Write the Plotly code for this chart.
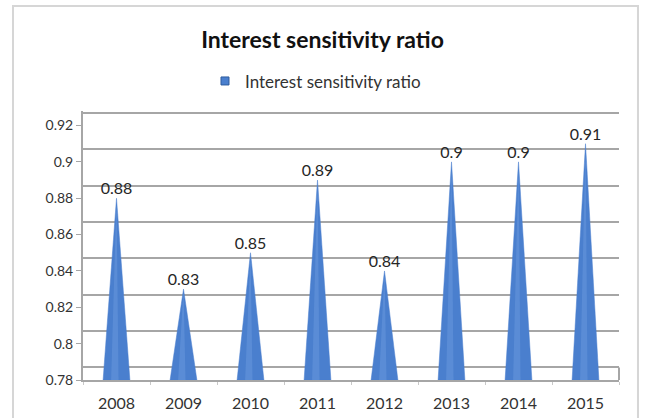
import plotly.graph_objects as go

# Interest sensitivity ratio by year
years = ["2008", "2009", "2010", "2011", "2012", "2013", "2014", "2015"]
ratio = [0.88, 0.83, 0.85, 0.89, 0.84, 0.90, 0.90, 0.91]
y_ticks = [0.78, 0.80, 0.82, 0.84, 0.86, 0.88, 0.90, 0.92]
y_tick_text = ["0.78", "0.8", "0.82", "0.84", "0.86", "0.88", "0.9", "0.92"]

FONT = "Lato"
Y_MIN, Y_MAX = 0.78, 0.9280
WALL_SHIFT = 0.0069      # back-wall offset of the pseudo-3D gridlines
CONE_W = 0.40            # cone base width in category units
HILITE_L, HILITE_R = 0.08, 0.03

fig = go.Figure()

# legend entry (also anchors the back-wall axis)
fig.add_trace(go.Scatter(
    x=[None], y=[None], mode="markers", name="Interest sensitivity ratio",
    marker=dict(symbol="square", size=8, color="#4a7fce",
                line=dict(width=1, color="#2f5c9e")),
    yaxis="y",
))

for i, v in enumerate(ratio):
    # cone body
    fig.add_trace(go.Scatter(
        x=[i - CONE_W / 2, i, i + CONE_W / 2, i - CONE_W / 2],
        y=[Y_MIN, v, Y_MIN, Y_MIN],
        mode="lines", fill="toself", fillcolor="#4a7fce",
        line=dict(width=0.5, color="#4a7fce"),
        yaxis="y2", showlegend=False, hoverinfo="skip",
    ))
    # lighter sheen down the front of the cone
    fig.add_trace(go.Scatter(
        x=[i - HILITE_L, i, i + HILITE_R, i - HILITE_L],
        y=[Y_MIN, v, Y_MIN, Y_MIN],
        mode="lines", fill="toself", fillcolor="rgba(120,165,228,0.35)",
        line=dict(width=0), yaxis="y2", showlegend=False, hoverinfo="skip",
    ))

# value labels above the cone tips
fig.add_trace(go.Scatter(
    x=list(range(len(years))), y=ratio,
    mode="text", text=[f"{v:g}" for v in ratio], textposition="top center",
    textfont=dict(family=FONT, size=16, color="#262626"),
    yaxis="y2", showlegend=False, hoverinfo="skip",
))

# right edge of the floor slab
fig.add_shape(type="line", xref="paper", yref="y2", x0=1, x1=1,
              y0=Y_MIN, y1=Y_MIN + WALL_SHIFT,
              line=dict(color="#a6a6a6", width=2))
# chart-area border
fig.add_shape(type="rect", xref="paper", yref="paper",
              x0=-0.1306, x1=1.0354, y0=-0.25, y1=1.39,
              line=dict(color="#d6d6d6", width=2), layer="below")

fig.update_layout(
    width=645, height=418,
    margin=dict(l=83, r=26, t=111, b=38, autoexpand=False),
    paper_bgcolor="white", plot_bgcolor="white",
    font=dict(family=FONT, color="#333333"),
    title=dict(text="<b>Interest sensitivity ratio</b>", x=0.5, xanchor="center",
               y=1 - 40 / 418, yanchor="middle",
               font=dict(family=FONT, size=23, color="#111111")),
    legend=dict(orientation="h", x=0.2276, xanchor="left", y=1.11, yanchor="middle",
                font=dict(family=FONT, size=17, color="#333333"),
                itemwidth=30, bgcolor="rgba(0,0,0,0)"),
    xaxis=dict(
        range=[-0.5, len(years) - 0.5], tickmode="array",
        tickvals=list(range(len(years))), ticktext=years,
        showgrid=False, zeroline=False, ticks="", ticklabelstandoff=8,
        tickfont=dict(family=FONT, size=16, color="#333333"),
        showline=True, linecolor="#a6a6a6", linewidth=2,
        minor=dict(tick0=-0.5, dtick=1, ticks="outside", ticklen=3,
                   tickcolor="#c8c8c8", tickwidth=1, showgrid=False),
        automargin=False, fixedrange=True,
    ),
    # back wall: gridlines drawn one depth step behind the value scale
    yaxis=dict(
        range=[Y_MIN - WALL_SHIFT, Y_MAX - WALL_SHIFT],
        tickmode="array", tickvals=y_ticks, showticklabels=False, ticks="",
        showgrid=True, gridcolor="#a6a6a6", gridwidth=2,
        zeroline=False, showline=False, automargin=False,
    ),
    # value scale
    yaxis2=dict(
        range=[Y_MIN, Y_MAX], overlaying="y", side="left",
        tickmode="array", tickvals=y_ticks, ticktext=y_tick_text,
        ticks="outside", ticklen=5, tickcolor="#a6a6a6", tickwidth=1,
        tickfont=dict(family=FONT, size=14, color="#333333"),
        showgrid=False, zeroline=False, automargin=False,
        showline=True, linecolor="#a6a6a6", linewidth=2,
    ),
)

fig.write_html("out.html")
